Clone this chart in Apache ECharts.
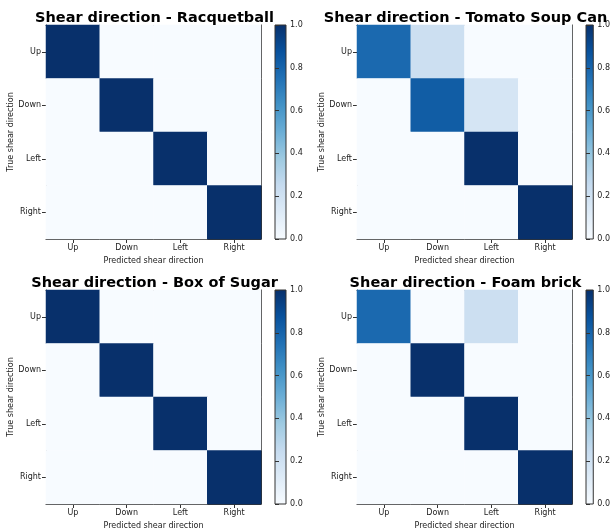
<!DOCTYPE html>
<html>
<head>
<meta charset="utf-8">
<script src="https://cdn.jsdelivr.net/npm/echarts@6/dist/echarts.min.js"></script>
<style>
html,body{margin:0;padding:0;background:#fff;}
#chart{width:613px;height:531px;}
</style>
</head>
<body>
<div id="chart"></div>
<script>
const categories = ['Up', 'Down', 'Left', 'Right'];
const panelTitles = [
  'Shear direction - Racquetball',
  'Shear direction - Tomato Soup Can',
  'Shear direction - Box of Sugar',
  'Shear direction - Foam brick'
];
const racquetball   = [[1, 0, 0, 0], [0, 1, 0, 0], [0, 0, 1, 0], [0, 0, 0, 1]];
const tomatoSoupCan = [[0.78, 0.22, 0, 0], [0, 0.83, 0.17, 0], [0, 0, 1, 0], [0, 0, 0, 1]];
const boxOfSugar    = [[1, 0, 0, 0], [0, 1, 0, 0], [0, 0, 1, 0], [0, 0, 0, 1]];
const foamBrick     = [[0.78, 0, 0.22, 0], [0, 1, 0, 0], [0, 0, 1, 0], [0, 0, 0, 1]];
const colorbarTicks = [0, 0.2, 0.4, 0.6, 0.8, 1.0];
const xAxisName = 'Predicted shear direction';
const yAxisName = 'True shear direction';

const matrices = [racquetball, tomatoSoupCan, boxOfSugar, foamBrick];
const blues = ['#f7fbff', '#deebf7', '#c6dbef', '#9ecae1', '#6baed6', '#4292c6', '#2171b5', '#08519c', '#08306b'];

// layout
const panelLeft = [46, 357, 46, 357];
const panelTop = [25, 25, 290, 290];
const cellW = 215, cellH = 214;
const cbOffset = 229, cbW = 11;
const frameColor = '#333';
const textColor = '#222';
const font = 'DejaVu Sans';

const grids = [], xAxes = [], yAxes = [], series = [], titles = [];

for (let i = 0; i < 4; i++) {
  grids.push({ left: panelLeft[i], top: panelTop[i], width: cellW, height: cellH });
  const g = grids.length - 1;
  const xb = xAxes.length;
  xAxes.push({
    type: 'category', gridIndex: g, data: categories, position: 'bottom',
    axisLine: { show: true, lineStyle: { color: frameColor, width: 1 } },
    axisTick: { show: true, alignWithLabel: true, length: 4, lineStyle: { color: frameColor } },
    axisLabel: { color: textColor, fontFamily: font, fontSize: 8, margin: 5 },
    splitLine: { show: false },
    name: xAxisName, nameLocation: 'middle', nameGap: 18,
    nameTextStyle: { color: textColor, fontFamily: font, fontSize: 8 }
  });
  xAxes.push({
    type: 'category', gridIndex: g, data: categories, position: 'top',
    axisLine: { show: true, lineStyle: { color: frameColor, width: 1 } },
    axisTick: { show: false }, axisLabel: { show: false }, splitLine: { show: false }
  });
  const yl = yAxes.length;
  yAxes.push({
    type: 'category', gridIndex: g, data: categories, inverse: true, position: 'left',
    axisLine: { show: true, lineStyle: { color: frameColor, width: 1 } },
    axisTick: { show: true, alignWithLabel: true, length: 4, lineStyle: { color: frameColor } },
    axisLabel: { color: textColor, fontFamily: font, fontSize: 8, margin: 5 },
    splitLine: { show: false },
    name: yAxisName, nameLocation: 'middle', nameGap: 31, nameRotate: 90,
    nameTextStyle: { color: textColor, fontFamily: font, fontSize: 8 }
  });
  yAxes.push({
    type: 'category', gridIndex: g, data: categories, inverse: true, position: 'right',
    axisLine: { show: true, lineStyle: { color: frameColor, width: 1 } },
    axisTick: { show: false }, axisLabel: { show: false }, splitLine: { show: false }
  });
  const data = [];
  matrices[i].forEach((row, r) => row.forEach((v, c) => data.push([c, r, v])));
  series.push({
    type: 'heatmap', xAxisIndex: xb, yAxisIndex: yl, data: data,
    itemStyle: { borderWidth: 0 }, emphasis: { disabled: true }, z: 1
  });

  grids.push({
    left: panelLeft[i] + cbOffset, top: panelTop[i], width: cbW, height: cellH,
    show: true, borderColor: frameColor, borderWidth: 1,
    backgroundColor: {
      type: 'linear', x: 0, y: 1, x2: 0, y2: 0,
      colorStops: blues.map((c, k) => ({ offset: k / (blues.length - 1), color: c }))
    }
  });
  const cg = grids.length - 1;
  const cx = xAxes.length;
  xAxes.push({ type: 'value', gridIndex: cg, min: 0, max: 1, show: false });
  const cy = yAxes.length;
  yAxes.push({
    type: 'value', gridIndex: cg, min: colorbarTicks[0], max: colorbarTicks[colorbarTicks.length - 1],
    interval: colorbarTicks[1] - colorbarTicks[0], position: 'right',
    axisLine: { show: false },
    axisTick: { show: true, length: 4, lineStyle: { color: frameColor } },
    axisLabel: { color: textColor, fontFamily: font, fontSize: 8, margin: 4, formatter: v => v.toFixed(1) },
    splitLine: { show: false }
  });
  series.push({ type: 'line', xAxisIndex: cx, yAxisIndex: cy, data: [], silent: true });

  titles.push({
    text: panelTitles[i], left: panelLeft[i] + cellW / 2 - 4, textAlign: 'center',
    top: panelTop[i] - 19,
    textStyle: { fontFamily: font, fontSize: 14.5, fontWeight: 'bold', color: '#000' }
  });
}

const chart = echarts.init(document.getElementById('chart'), null, { renderer: 'canvas' });
chart.setOption({
  animation: false,
  backgroundColor: '#fff',
  title: titles,
  grid: grids,
  xAxis: xAxes,
  yAxis: yAxes,
  visualMap: {
    type: 'continuous', show: false, min: 0, max: 1,
    seriesIndex: [0, 2, 4, 6],
    inRange: { color: blues }
  },
  series: series
});
</script>
</body>
</html>
